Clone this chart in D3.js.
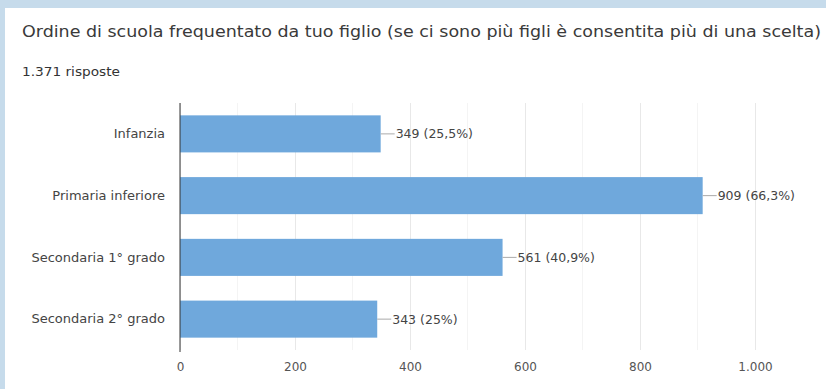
<!DOCTYPE html>
<html>
<head>
<meta charset="utf-8">
<script src="https://cdn.jsdelivr.net/npm/d3@7"></script>
<style>
  body { margin: 0; background: #fff; }
  svg { display: block; }
</style>
</head>
<body>
<svg id="chart" width="826" height="389"></svg>
<script>
const categories = ['Infanzia', 'Primaria inferiore', 'Secondaria 1° grado', 'Secondaria 2° grado']
const counts = [349, 909, 561, 343]
const percLabels = ['25,5%', '66,3%', '40,9%', '25%']
const xTicks = [0, 200, 400, 600, 800, 1000]
const minorTicks = [100, 300, 500, 700, 900]
const title = 'Ordine di scuola frequentato da tuo figlio (se ci sono più figli è consentita più di una scelta)'
const subtitle = '1.371 risposte'

const svg = d3.select('#chart')
const svgWidth = +svg.attr('width')
const svgHeight = +svg.attr('height')

const frameColor = '#c6dbeb'
const barColor = '#6fa8dc'
const textColor = '#444'
const labelFont = '"DejaVu Sans", sans-serif'

// light blue frame (top and left strips)
svg.append('rect').attr('x', 0).attr('y', 0).attr('width', svgWidth).attr('height', 8).attr('fill', frameColor)
svg.append('rect').attr('x', 0).attr('y', 0).attr('width', 5).attr('height', svgHeight).attr('fill', frameColor)

svg.append('text')
  .attr('x', 22).attr('y', 37)
  .text(title)
  .attr('textLength', 799)
  .attr('lengthAdjust', 'spacingAndGlyphs')
  .style('font-family', labelFont)
  .style('font-size', '15.5px')
  .attr('fill', '#3a3a3a')

svg.append('text')
  .attr('x', 22).attr('y', 76)
  .text(subtitle)
  .attr('textLength', 98)
  .attr('lengthAdjust', 'spacingAndGlyphs')
  .style('font-family', labelFont)
  .style('font-size', '11.5px')
  .attr('fill', '#333')

const plotLeft = 180, plotRight = 755, plotTop = 103, plotBottom = 350

const xScale = d3.scaleLinear()
  .domain([0, 1000])
  .range([plotLeft, plotRight])

const yScale = d3.scaleBand()
  .domain(categories)
  .range([plotTop, plotBottom])
  .paddingInner(0.4)
  .paddingOuter(0.2)

// minor gridlines
svg.append('g')
  .selectAll('line')
  .data(minorTicks)
  .enter()
  .append('line')
  .attr('x1', d => xScale(d)).attr('x2', d => xScale(d))
  .attr('y1', plotTop).attr('y2', plotBottom)
  .attr('stroke', '#f4f4f4')

// major gridlines + tick labels
const xAxis = d3.axisBottom(xScale)
  .tickValues(xTicks)
  .tickSize(-(plotBottom - plotTop))
  .tickPadding(12)
  .tickFormat(d => d3.format(',')(d).replace(',', '.'))

const xG = svg.append('g')
  .attr('transform', `translate(0, ${plotBottom})`)
  .call(xAxis)

xG.select('path.domain').remove()
xG.selectAll('.tick line').attr('stroke', '#e8e8e8')
xG.selectAll('.tick text')
  .attr('fill', '#555')
  .style('font-family', labelFont)
  .style('font-size', '12px')

const data = categories.map((c, i) => ({ cat: c, n: counts[i], perc: percLabels[i] }))

svg.selectAll('rect.bar')
  .data(data)
  .enter()
  .append('rect')
  .attr('class', 'bar')
  .attr('x', xScale(0))
  .attr('y', d => yScale(d.cat))
  .attr('width', d => xScale(d.n) - xScale(0))
  .attr('height', yScale.bandwidth())
  .attr('fill', barColor)

// leader lines
svg.selectAll('line.leader')
  .data(data)
  .enter()
  .append('line')
  .attr('class', 'leader')
  .attr('x1', d => xScale(d.n))
  .attr('x2', d => xScale(d.n) + 14)
  .attr('y1', d => yScale(d.cat) + yScale.bandwidth() / 2)
  .attr('y2', d => yScale(d.cat) + yScale.bandwidth() / 2)
  .attr('stroke', '#aaa')

svg.selectAll('text.val')
  .data(data)
  .enter()
  .append('text')
  .attr('class', 'val')
  .attr('x', d => xScale(d.n) + 15)
  .attr('y', d => yScale(d.cat) + yScale.bandwidth() / 2)
  .attr('dy', '0.35em')
  .text(d => `${d.n} (${d.perc})`)
  .attr('fill', textColor)
  .style('font-family', labelFont)
  .style('font-size', '12.5px')

// category labels
const yAxis = d3.axisLeft(yScale).tickSize(0).tickPadding(15)
const yG = svg.append('g')
  .attr('transform', `translate(${plotLeft}, 0)`)
  .call(yAxis)
yG.select('path.domain').remove()
yG.selectAll('.tick text')
  .attr('fill', textColor)
  .style('font-family', labelFont)
  .style('font-size', '13px')

// baseline axis
svg.append('line')
  .attr('x1', xScale(0)).attr('x2', xScale(0))
  .attr('y1', plotTop).attr('y2', plotBottom + 2)
  .attr('stroke', '#333')
  .attr('stroke-width', 1)
</script>
</body>
</html>
